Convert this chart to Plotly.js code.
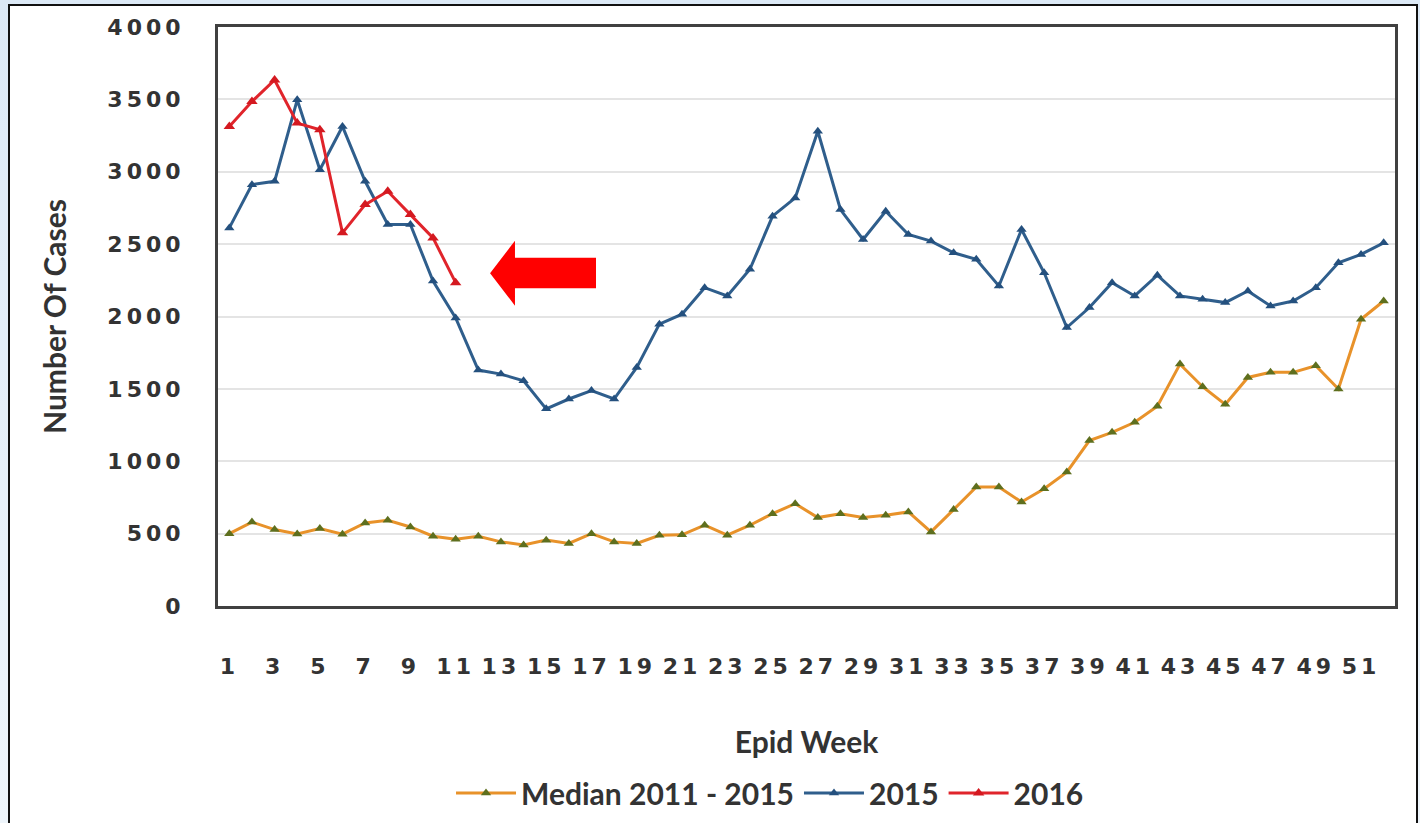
<!DOCTYPE html>
<html>
<head>
<meta charset="utf-8">
<script src="https://cdn.plot.ly/plotly-3.0.1.min.js"></script>
<style>
  html, body { margin:0; padding:0; width:1420px; height:823px; overflow:hidden;
    background: linear-gradient(180deg, #dce9f6 0%, #eef5fb 100%); }
  #frame { position:absolute; left:8px; top:4px; width:1406px; height:850px;
    border:2px solid #111; background:#fff; overflow:hidden; }
  #chart { position:absolute; left:0; top:0; width:1406px; height:850px; }
  .xtick text, .ytick text { letter-spacing: 4px; }
</style>
</head>
<body>
<div id="frame"><div id="chart"></div></div>
<script>
// Epidemiological weeks
const weeks = [1,2,3,4,5,6,7,8,9,10,11,12,13,14,15,16,17,18,19,20,21,22,23,24,25,26,
               27,28,29,30,31,32,33,34,35,36,37,38,39,40,41,42,43,44,45,46,47,48,49,50,51,52];
const weeks2016 = [1,2,3,4,5,6,7,8,9,10,11];
const tickWeeks = [1,3,5,7,9,11,13,15,17,19,21,23,25,27,29,31,33,35,37,39,41,43,45,47,49,51];
const tickLabels = ["1","3","5","7","9","11","13","15","17","19","21","23","25","27","29",
                    "31","33","35","37","39","41","43","45","47","49","51"];

// Number of cases
const median2011_2015 = [500,580,528,498,535,496,574,592,546,482,462,482,443,422,455,432,500,443,432,489,
                         492,558,489,558,638,707,611,638,611,627,650,512,666,822,822,718,810,925,1143,1200,
                         1269,1380,1671,1515,1393,1579,1614,1614,1660,1499,1981,2107];
const cases2015 = [2612,2911,2934,3497,3014,3313,2934,2636,2636,2245,1990,1630,1602,1556,1362,1430,1488,1430,1648,1947,
                   2016,2199,2142,2326,2693,2819,3280,2739,2532,2727,2567,2521,2440,2395,2211,2601,2302,1924,2062,2234,
                   2142,2285,2142,2119,2096,2176,2073,2107,2199,2371,2429,2509];
const cases2016 = [3313,3485,3634,3336,3290,2578,2773,2865,2704,2543,2234];

const seriesNames = ["Median 2011 - 2015", "2015", "2016"];

const traces = [
  { x: weeks, y: median2011_2015, name: seriesNames[0], type: 'scatter', mode: 'lines+markers',
    line: { color: '#E8922A', width: 3 },
    marker: { symbol: 'triangle-up', size: 9, color: '#5E6F1E' } },
  { x: weeks, y: cases2015, name: seriesNames[1], type: 'scatter', mode: 'lines+markers',
    line: { color: '#2F5E8C', width: 3 },
    marker: { symbol: 'triangle-up', size: 9, color: '#24507E' } },
  { x: weeks2016, y: cases2016, name: seriesNames[2], type: 'scatter', mode: 'lines+markers',
    line: { color: '#E0242B', width: 3 },
    marker: { symbol: 'triangle-up', size: 10, color: '#D41920' } }
];

const tickFont = { family: 'DejaVu Sans', size: 22, color: '#333', weight: 'bold' };
const titleFont = { family: 'Lato', size: 30, color: '#333', weight: 'bold' };

const layout = {
  width: 1406, height: 850,
  margin: { l: 208, r: 21, t: 21, b: 250 },
  paper_bgcolor: '#ffffff', plot_bgcolor: '#ffffff',
  showlegend: true,
  xaxis: {
    range: [0.5, 52.5], tickmode: 'array', tickvals: tickWeeks, ticktext: tickLabels,
    ticks: 'outside', ticklen: 39, tickcolor: 'rgba(0,0,0,0)',
    showgrid: false, zeroline: false,
    showline: true, linecolor: '#404040', linewidth: 3, mirror: true,
    tickfont: tickFont,
    title: { text: 'Epid Week', font: titleFont, standoff: 54 }
  },
  yaxis: {
    range: [0, 4000], dtick: 500, tick0: 0,
    ticks: 'outside', ticklen: 26, tickcolor: 'rgba(0,0,0,0)',
    showgrid: true, gridcolor: '#e4e4e4', gridwidth: 2, zeroline: false,
    showline: true, linecolor: '#404040', linewidth: 3, mirror: true,
    tickfont: tickFont,
    title: { text: 'Number Of Cases', font: titleFont, standoff: 32 }
  },
  legend: {
    orientation: 'h', x: 0.469, xanchor: 'center', y: -0.323, yanchor: 'middle',
    font: { family: 'Lato', size: 30, color: '#333', weight: 'bold' },
    itemwidth: 60, bgcolor: 'rgba(0,0,0,0)'
  },
  shapes: [
    { type: 'path', xref: 'x', yref: 'y',
      path: 'M 12.52 2298 L 13.62 2524 L 13.62 2406 L 17.2 2406 L 17.2 2195 L 13.62 2195 L 13.62 2075 Z',
      fillcolor: '#FF0000', line: { width: 0 } }
  ]
};

Plotly.newPlot('chart', traces, layout, { displayModeBar: false, staticPlot: true });
</script>
</body>
</html>
